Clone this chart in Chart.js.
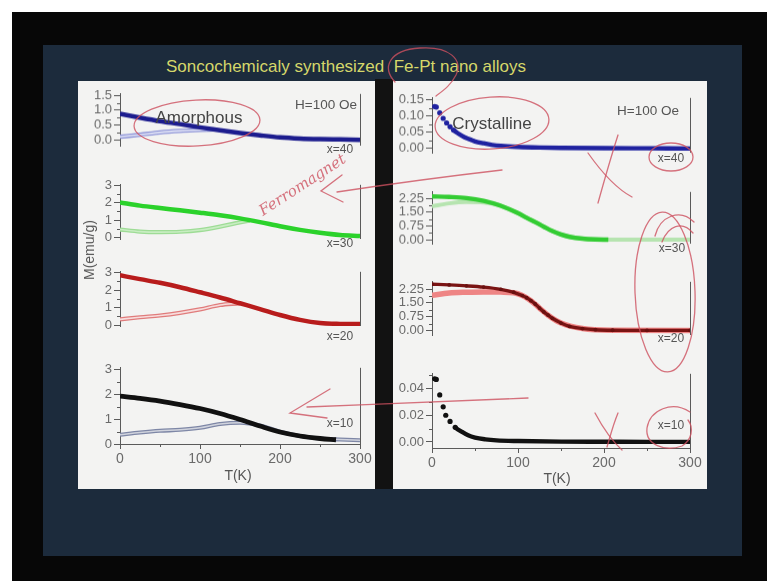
<!DOCTYPE html>
<html>
<head>
<meta charset="utf-8">
<script src="https://cdn.jsdelivr.net/npm/chart.js@4.4.1/dist/chart.umd.min.js"></script>
<style>
  html, body { margin: 0; padding: 0; background: #fff; }
  #stage { position: relative; width: 767px; height: 581px; overflow: hidden; background: #fff;
           font-family: "Liberation Sans", Arial, sans-serif; }
  .box { position: absolute; }
  #plots canvas { position: absolute; }
  .lbl { position: absolute; transform: translate(-50%, -50%); white-space: nowrap; color: #555; line-height: 1; }
  #ink { position: absolute; left: 0; top: 0; pointer-events: none; }
</style>
</head>
<body>
<div id="stage">
  <div class="box" style="left:12px;top:12px;width:755px;height:569px;background:#070707"></div>
  <div class="box" style="left:43px;top:45px;width:699px;height:511px;background:#1c2b3c"></div>
  <div class="box" style="left:375px;top:79px;width:18px;height:410px;background:#121212"></div>
  <div class="box" style="left:78px;top:81px;width:297px;height:408px;background:#f3f3f2"></div>
  <div class="box" style="left:393px;top:81px;width:314px;height:408px;background:#f3f3f2"></div>

  <div class="lbl" style="left:346px;top:66px;font-size:17px;color:#d5d76a">Soncochemicaly synthesized&nbsp; Fe-Pt nano alloys</div>

  <div id="plots"></div>

  <!-- amorphous panel texts -->
  <div class="lbl" style="left:199px;top:117px;font-size:17px;color:#444">Amorphous</div>
  <div class="lbl" style="left:326px;top:105px;font-size:13.5px">H=100 Oe</div>
  <div class="lbl" style="left:340px;top:149px;font-size:12px">x=40</div>
  <div class="lbl" style="left:340px;top:243px;font-size:12px">x=30</div>
  <div class="lbl" style="left:340px;top:336px;font-size:12px">x=20</div>
  <div class="lbl" style="left:340px;top:423px;font-size:12px">x=10</div>
  <div class="lbl" style="left:89px;top:250px;font-size:14px;transform:translate(-50%,-50%) rotate(-90deg)">M(emu/g)</div>
  <div class="lbl" style="left:238px;top:475px;font-size:14px">T(K)</div>

  <!-- crystalline panel texts -->
  <div class="lbl" style="left:492px;top:123px;font-size:17px;color:#444">Crystalline</div>
  <div class="lbl" style="left:648px;top:111px;font-size:13.5px">H=100 Oe</div>
  <div class="lbl" style="left:671px;top:158px;font-size:12px">x=40</div>
  <div class="lbl" style="left:672px;top:248px;font-size:12px">x=30</div>
  <div class="lbl" style="left:671px;top:338px;font-size:12px">x=20</div>
  <div class="lbl" style="left:671px;top:425px;font-size:12px">x=10</div>
  <div class="lbl" style="left:557px;top:478px;font-size:14px">T(K)</div>

  <!-- hand-written pen marks over the slide -->
  <svg id="ink" width="767" height="581" viewBox="0 0 767 581">
    <g fill="none" stroke="rgba(205,80,95,0.8)" stroke-width="1.3" stroke-linecap="round">
      <path d="M395 82 C382 68 388 50 420 48 C450 46 463 60 456 75 C451 85 444 90 436 96"/>
      <ellipse cx="197" cy="123" rx="63" ry="23" transform="rotate(-3 197 123)"/>
      <ellipse cx="492" cy="123" rx="57" ry="26" transform="rotate(-4 492 123)"/>
      <ellipse cx="671" cy="157" rx="22" ry="14"/>
      <path d="M588 153 C600 170 615 188 632 197"/>
      <path d="M618 135 C610 160 603 185 598 203"/>
      <ellipse cx="665" cy="292" rx="30" ry="80" transform="rotate(-2 665 292)"/>
      <path d="M655 236 C660 216 680 208 694 222"/>
      <path d="M662 242 C668 226 682 220 693 233"/>
      <path d="M690 412 C672 400 650 410 647 428 C645 445 665 452 682 446 C692 440 694 428 688 420"/>
      <path d="M595 413 C603 428 612 441 622 450"/>
      <path d="M618 413 C613 425 610 437 607 447"/>
      <path d="M502 170 C450 176 390 184 337 192"/>
      <path d="M342 175 L321 191 L343 202"/>
      <path d="M528 398 C450 401 380 404 307 407"/>
      <path d="M330 389 L290 413 L327 418"/>
    </g>
    <text x="263" y="216" transform="rotate(-33 263 216)" font-family="DejaVu Serif" font-style="italic"
          font-size="15" fill="rgba(205,80,95,0.8)" textLength="100" lengthAdjust="spacingAndGlyphs">Ferromagnet</text>
  </svg>
</div>

<script>
// ---- temperature axis ----
const xTicks = [0, 100, 200, 300];
const xTickLabels = ['0', '100', '200', '300'];
const xMinor = [50, 150, 250];

// ---- amorphous samples (FC = thick line, ZFC = double line) ----
const amT = [0, 25, 50, 75, 100, 125, 150, 175, 200, 225, 250, 275, 300];
const am40FC = [0.88, 0.75, 0.63, 0.53, 0.42, 0.32, 0.23, 0.15, 0.08, 0.04, 0.02, 0.01, 0.00];
const am40ZfcT = [0, 25, 50, 75, 100, 118];
const am40Zfc = [0.10, 0.17, 0.25, 0.30, 0.33, 0.35];
const am30FC = [2.02, 1.84, 1.70, 1.57, 1.43, 1.28, 1.10, 0.88, 0.64, 0.43, 0.26, 0.13, 0.07];
const am30ZfcT = [0, 25, 50, 75, 100, 125, 145, 162];
const am30Zfc = [0.45, 0.33, 0.30, 0.32, 0.42, 0.62, 0.82, 0.96];
const am20FC = [2.85, 2.63, 2.42, 2.17, 1.88, 1.58, 1.25, 0.92, 0.58, 0.30, 0.12, 0.07, 0.06];
const am20ZfcT = [0, 25, 50, 75, 100, 125, 140, 150];
const am20Zfc = [0.33, 0.45, 0.55, 0.70, 0.90, 1.15, 1.22, 1.24];
const am10FcT = [0, 25, 50, 75, 100, 125, 150, 175, 200, 225, 250, 270];
const am10FC = [1.92, 1.83, 1.72, 1.58, 1.42, 1.22, 0.98, 0.72, 0.48, 0.32, 0.22, 0.17];
const am10Zfc = [0.37, 0.46, 0.53, 0.57, 0.65, 0.80, 0.85, 0.74, 0.49, 0.32, 0.22, 0.18, 0.15];

// ---- crystalline samples ----
const cr40T = [3, 5, 9, 13, 17, 21, 25, 30, 35, 40, 45, 50, 60, 70, 80, 100, 125, 150, 200, 250, 300];
const cr40M = [0.129, 0.128, 0.110, 0.093, 0.079, 0.067, 0.057, 0.047, 0.039, 0.032, 0.027, 0.022,
               0.016, 0.011, 0.008, 0.005, 0.003, 0.002, 0.001, 0.0005, 0.0];
const cr30FcT = [0, 20, 40, 60, 80, 100, 110, 120, 130, 140, 150, 160, 175, 190, 205];
const cr30FC = [2.36, 2.33, 2.27, 2.12, 1.85, 1.45, 1.20, 0.97, 0.72, 0.48, 0.30, 0.17, 0.07, 0.03, 0.02];
const cr30ZfcT = [0, 20, 40, 60, 75, 80, 100, 120, 140, 160, 190, 205, 250, 300];
const cr30Zfc = [1.82, 1.98, 2.05, 2.03, 1.93, 1.85, 1.45, 0.97, 0.48, 0.17, 0.03, 0.02, 0.02, 0.02];
const cr20FcT = [0, 20, 40, 60, 80, 95, 105, 110, 115, 120, 125, 130, 135, 140, 150, 160, 175, 190, 210, 250, 300];
const cr20FC = [2.52, 2.48, 2.43, 2.36, 2.24, 2.08, 1.90, 1.78, 1.62, 1.44, 1.22, 1.01, 0.83, 0.66,
                0.40, 0.22, 0.10, 0.04, 0.01, 0.0, 0.0];
const cr20ZfcT = [0, 20, 40, 60, 80, 95, 105, 115, 125, 135, 150, 175, 210, 300];
const cr20Zfc = [1.92, 2.04, 2.08, 2.10, 2.09, 2.05, 1.90, 1.62, 1.22, 0.83, 0.40, 0.10, 0.01, 0.0];
const cr10T = [3, 5, 9, 13, 16, 21, 27, 35, 42, 50, 62, 75, 100, 150, 200, 250, 300];
const cr10M = [0.0472, 0.0468, 0.0352, 0.0263, 0.0200, 0.0154, 0.0110, 0.0075, 0.0050, 0.0033,
               0.0020, 0.0012, 0.0007, 0.0003, 0.0002, 0.0001, 0.0001];

// ---- magnetisation tick sets ----
const amTicks40 = [0, 0.5, 1.0, 1.5];
const amLabels40 = ['0.0', '0.5', '1.0', '1.5'];
const amMinor40 = [0.25, 0.75, 1.25];
const amTicks = [0, 1, 2, 3];
const amLabels = ['0', '1', '2', '3'];
const amMinor = [0.5, 1.5, 2.5];
const crTicks40 = [0, 0.05, 0.10, 0.15];
const crLabels40 = ['0.00', '0.05', '0.10', '0.15'];
const crMinor40 = [0.025, 0.075, 0.125];
const crTicksMid = [0, 0.75, 1.5, 2.25];
const crLabelsMid = ['0.00', '0.75', '1.50', '2.25'];
const crMinorMid = [0.375, 1.125, 1.875];
const crTicks10 = [0, 0.02, 0.04];
const crLabels10 = ['0.00', '0.02', '0.04'];
const crMinor10 = [0.01, 0.03, 0.05];

// ---------------------------------------------------------------
const AX = '#5a5a5a';
const TICK_FONT = { family: 'Liberation Sans', size: 13 };
const W = 46, PT = 8, PB = 8, XH = 24;
const plots = document.getElementById('plots');

const pts = (T, M) => T.map((t, i) => ({ x: t, y: M[i] }));

function fcLine(T, M, color, width) {
  return { data: pts(T, M), borderColor: color, borderWidth: width, order: 0,
           cubicInterpolationMode: 'monotone', pointRadius: 0, fill: false };
}
function zfcDouble(T, M, outer, inner) {
  return [
    { data: pts(T, M), borderColor: outer, borderWidth: 4.2, order: 3, cubicInterpolationMode: 'monotone', pointRadius: 0 },
    { data: pts(T, M), borderColor: inner, borderWidth: 1.6, order: 2, cubicInterpolationMode: 'monotone', pointRadius: 0 }
  ];
}
// dotted start, dense (line-like) tail
function dotted(T, M, color, dotUntil, lineFrom) {
  return { data: pts(T, M), borderColor: color, borderWidth: 4.4, order: 0,
           cubicInterpolationMode: 'monotone',
           pointRadius: c => (c.raw && c.raw.x <= dotUntil ? 2.6 : 0),
           pointBackgroundColor: color, pointBorderWidth: 0,
           segment: { borderColor: c => (c.p0.parsed.x < lineFrom ? 'rgba(0,0,0,0)' : undefined) } };
}

const framePlugin = {
  id: 'frame',
  afterDraw(chart, args, opts) {
    const { ctx, chartArea: a, scales } = chart;
    ctx.save();
    ctx.strokeStyle = AX;
    ctx.lineWidth = 1;
    ctx.beginPath();
    const r = Math.round(a.right) + 0.5;
    ctx.moveTo(r, a.top); ctx.lineTo(r, a.bottom);
    (opts.minor || []).forEach(v => {
      const y = Math.round(scales.y.getPixelForValue(v)) + 0.5;
      ctx.moveTo(a.left - 3, y); ctx.lineTo(a.left, y);
    });
    if (opts.xaxis) {
      xMinor.forEach(v => {
        const x = Math.round(scales.x.getPixelForValue(v)) + 0.5;
        ctx.moveTo(x, a.bottom); ctx.lineTo(x, a.bottom + 3);
      });
    }
    ctx.stroke();
    ctx.restore();
  }
};

function subplot(s) {
  const PR = s.xaxis ? 16 : 10;
  const cw = W + (s.x1 - s.x0) + PR;
  const ch = PT + (s.bottom - s.top) + (s.xaxis ? XH : PB);
  const c = document.createElement('canvas');
  c.width = cw; c.height = ch;
  c.style.left = (s.x0 - W) + 'px';
  c.style.top = (s.top - PT) + 'px';
  c.style.width = cw + 'px';
  c.style.height = ch + 'px';
  plots.appendChild(c);

  new Chart(c, {
    type: 'line',
    data: { datasets: s.datasets },
    options: {
      responsive: false, animation: false, devicePixelRatio: 1,
      layout: { autoPadding: false, padding: { top: PT, right: PR, bottom: s.xaxis ? 0 : PB, left: 0 } },
      plugins: { legend: { display: false }, tooltip: { enabled: false },
                 frame: { minor: s.minor, xaxis: !!s.xaxis } },
      scales: {
        x: {
          type: 'linear', min: 0, max: 300, display: !!s.xaxis,
          afterFit: sc => { sc.height = XH; },
          afterBuildTicks: sc => { sc.ticks = xTicks.map(v => ({ value: v })); },
          border: { display: true, color: AX, width: 1 },
          grid: { drawOnChartArea: false, drawTicks: true, tickLength: 5, color: AX },
          ticks: { autoSkip: false, maxRotation: 0, padding: 2, color: '#6a6a6a', font: { family: 'Liberation Sans', size: 14 },
                   callback: (v, i) => xTickLabels[i] }
        },
        y: {
          type: 'linear', min: s.ymin, max: s.ymax,
          afterFit: sc => { sc.width = W; },
          afterBuildTicks: sc => { sc.ticks = s.ticks.map(v => ({ value: v })); },
          border: { display: true, color: AX, width: 1 },
          grid: { drawOnChartArea: false, drawTicks: true, tickLength: 6, color: AX },
          ticks: { autoSkip: false, padding: 2, color: '#6a6a6a', font: TICK_FONT,
                   callback: (v, i) => s.labels[i] }
        }
      }
    },
    plugins: [framePlugin]
  });
}

// ---- amorphous column ----
const AL = { x0: 120, x1: 360 };
subplot({ ...AL, top: 92, bottom: 169.6, ymin: -0.2, ymax: 1.55,
  ticks: amTicks40, labels: amLabels40, minor: amMinor40,
  datasets: [fcLine(amT, am40FC, '#1c1c8e', 4.5), ...zfcDouble(am40ZfcT, am40Zfc, '#8f95d8', '#e2e4f6')] });
subplot({ ...AL, top: 182.9, bottom: 263.3, ymin: -0.1, ymax: 3.05,
  ticks: amTicks, labels: amLabels, minor: amMinor,
  datasets: [fcLine(amT, am30FC, '#2bd22b', 4.5), ...zfcDouble(am30ZfcT, am30Zfc, '#9edc96', '#c8edc2')] });
subplot({ ...AL, top: 270.3, bottom: 350.3, ymin: -0.05, ymax: 3.05,
  ticks: amTicks, labels: amLabels, minor: amMinor,
  datasets: [fcLine(amT, am20FC, '#b81c1c', 4.5), ...zfcDouble(am20ZfcT, am20Zfc, '#e07c7c', '#f7dcdc')] });
subplot({ ...AL, top: 365.9, bottom: 444.3, ymin: 0, ymax: 3.05, xaxis: true,
  ticks: amTicks, labels: amLabels, minor: amMinor,
  datasets: [fcLine(am10FcT, am10FC, '#111111', 4.8), ...zfcDouble(amT, am10Zfc, '#7e87a6', '#d0d3dd')] });

// ---- crystalline column ----
const CR = { x0: 432, x1: 690 };
subplot({ ...CR, top: 96.1, bottom: 176.9, ymin: -0.013, ymax: 0.156,
  ticks: crTicks40, labels: crLabels40, minor: crMinor40,
  datasets: [dotted(cr40T, cr40M, '#1f22a0', 27, 25)] });
subplot({ ...CR, top: 190.2, bottom: 268.1, ymin: -0.2, ymax: 2.6,
  ticks: crTicksMid, labels: crLabelsMid, minor: crMinorMid,
  datasets: [fcLine(cr30FcT, cr30FC, '#33cc33', 4.4),
             { data: pts(cr30ZfcT, cr30Zfc), borderColor: '#b6e4b0', borderWidth: 4, order: 2,
               cubicInterpolationMode: 'monotone', pointRadius: 0 }] });
subplot({ ...CR, top: 280.1, bottom: 359.5, ymin: -0.25, ymax: 2.65,
  ticks: crTicksMid, labels: crLabelsMid, minor: crMinorMid,
  datasets: [{ ...fcLine(cr20FcT, cr20FC, '#7a1414', 3.4), pointRadius: 1.9, pointBackgroundColor: '#6a1010', pointBorderWidth: 0 },
             { data: pts(cr20ZfcT, cr20Zfc), borderColor: '#ee8585', borderWidth: 5.5, order: 2,
               cubicInterpolationMode: 'monotone', pointRadius: 0 }] });
subplot({ ...CR, top: 371.5, bottom: 448.2, ymin: -0.0045, ymax: 0.051, xaxis: true,
  ticks: crTicks10, labels: crLabels10, minor: crMinor10,
  datasets: [dotted(cr10T, cr10M, '#111111', 27, 25)] });
</script>
</body>
</html>
